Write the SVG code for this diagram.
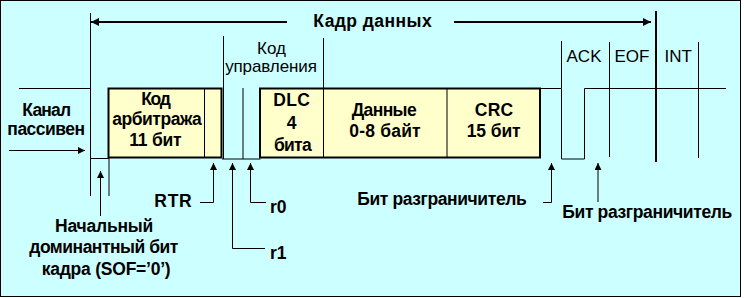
<svg xmlns="http://www.w3.org/2000/svg" width="744" height="298" viewBox="0 0 744 298">
<defs>
<style>
.ln{stroke:#000;stroke-width:1;fill:none}
.thk{stroke:#000;stroke-width:2;fill:none}
.box{fill:#FFFFCC;stroke:#000;stroke-width:2}
.b{font-family:"Liberation Sans",Arial,sans-serif;font-weight:bold;font-size:17.5px;fill:#000}
.r{font-family:"Liberation Sans",Arial,sans-serif;font-size:17px;fill:#000}
.m{text-anchor:middle}
.e{text-anchor:end}
</style>
<marker id="ah" viewBox="0 0 10 10" refX="10" refY="5" markerWidth="8" markerHeight="8" markerUnits="userSpaceOnUse" orient="auto"><path d="M0,0 L10,5 L0,10 Z" fill="#000"/></marker>
<marker id="as" viewBox="0 0 10 10" refX="10" refY="5" markerWidth="9" markerHeight="7" markerUnits="userSpaceOnUse" orient="auto"><path d="M0,0 L10,5 L0,10 Z" fill="#000"/></marker>
</defs>
<rect x="0.5" y="0.5" width="740" height="296" fill="#CCFFFF" stroke="#000"/>

<g id="waveform">
<path class="ln" d="M19,88.5 H90.5 V158.5 H108.5"/>
<path class="ln" d="M90.5,13 V196 M109,158 V196"/>
<path class="ln" d="M222,159 H260.5 M223.5,36 V159 M243,88 V159"/>
<path class="ln" d="M323.5,38 V88"/>
<path class="ln" d="M540,88.5 H561.5 V159 H584.5 V88.5 H726"/>
<path class="ln" d="M561.5,41 V88 M609.5,42 V157 M698.5,42 V158"/>
<path class="thk" d="M656,11 V162"/>
</g>

<g id="arbitration">
<rect class="box" x="108.5" y="88.5" width="113" height="69"/>
<path class="ln" d="M204.5,88 V157"/>
<text class="b m" x="156" y="105" textLength="29.7" lengthAdjust="spacing">Код</text>
<text class="b m" x="157" y="125" textLength="89.7" lengthAdjust="spacing">арбитража</text>
<text class="b m" x="155.5" y="146" textLength="52.4" lengthAdjust="spacing">11 бит</text>
</g>

<g id="fields">
<rect class="box" x="260" y="88.5" width="280" height="69"/>
<path class="ln" d="M323.5,88 V157 M447,88 V157"/>
<text class="b m" x="291.5" y="106" textLength="36.7" lengthAdjust="spacing">DLC</text>
<text class="b m" x="291.5" y="129">4</text>
<text class="b m" x="292.8" y="150.5" textLength="37.7" lengthAdjust="spacing">бита</text>
<text class="b m" x="384.2" y="116" textLength="65" lengthAdjust="spacing">Данные</text>
<text class="b m" x="385" y="137" textLength="71.3" lengthAdjust="spacing">0-8 байт</text>
<text class="b m" x="494" y="116" textLength="38.3" lengthAdjust="spacing">CRC</text>
<text class="b m" x="493.7" y="137" textLength="54" lengthAdjust="spacing">15 бит</text>
</g>

<g id="title">
<text class="b m" x="372.5" y="26.7" textLength="118.4" lengthAdjust="spacing">Кадр данных</text>
</g>

<g id="control-label">
<text class="r m" x="271.5" y="53.5">Код</text>
<text class="r m" x="271" y="71.7" textLength="91.7" lengthAdjust="spacing">управления</text>
</g>

<g id="tail-labels">
<text class="r m" x="584" y="61.7">ACK</text>
<text class="r m" x="632" y="61.7">EOF</text>
<text class="r m" x="678.3" y="61.7">INT</text>
</g>

<g id="idle">
<text class="b m" x="46.7" y="116" textLength="48.7" lengthAdjust="spacing">Канал</text>
<text class="b m" x="46.2" y="135" textLength="77.7" lengthAdjust="spacing">пассивен</text>
</g>

<g id="bottom-labels">
<text class="b e" x="191.7" y="207.3" textLength="37.4" lengthAdjust="spacing">RTR</text>
<text class="b" x="270" y="213">r0</text>
<text class="b" x="270" y="258.5">r1</text>
<text class="b m" x="104.2" y="231.7" textLength="98.3" lengthAdjust="spacing">Начальный</text>
<text class="b m" x="103.8" y="253.3" textLength="149" lengthAdjust="spacing">доминантный бит</text>
<text class="b m" x="106.2" y="275" textLength="129" lengthAdjust="spacing">кадра (SOF=’0’)</text>
<text class="b" x="357.3" y="205" textLength="169.4" lengthAdjust="spacing">Бит разграничитель</text>
<text class="b" x="562.3" y="217.7" textLength="170" lengthAdjust="spacing">Бит разграничитель</text>
</g>

<g id="connectors">
<path class="thk" d="M287,22 H91" marker-end="url(#ah)"/>
<path class="thk" d="M454,22 H651" marker-end="url(#ah)"/>
<path class="ln" d="M9,150.5 H85" marker-end="url(#as)"/>
<path class="ln" d="M100.5,216 V171" marker-end="url(#as)"/>
<path class="ln" d="M200,202.5 H213.5 V163" marker-end="url(#as)"/>
<path class="ln" d="M265,248.5 H232.5 V163" marker-end="url(#as)"/>
<path class="ln" d="M266,202.5 H250.5 V163" marker-end="url(#as)"/>
<path class="ln" d="M543,202.5 H551.5 V163" marker-end="url(#as)"/>
<path class="ln" d="M598,202 V163" marker-end="url(#as)"/>
</g>
</svg>
